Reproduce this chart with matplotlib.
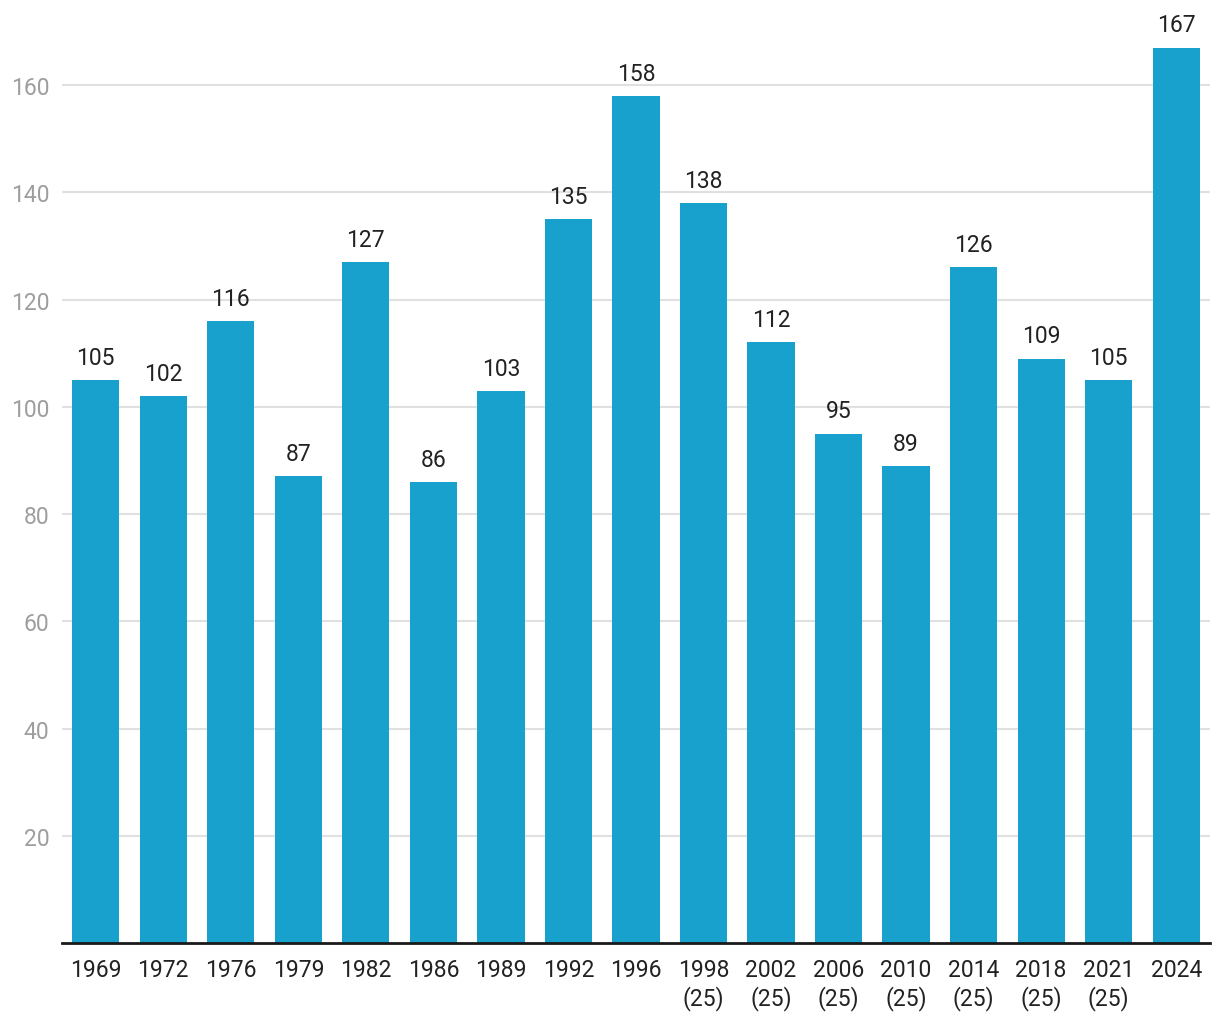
import numpy as np
import matplotlib.pyplot as plt

plt.rcParams["font.family"] = ["Roboto", "DejaVu Sans"]

# data
years = ["1969", "1972", "1976", "1979", "1982", "1986", "1989", "1992", "1996",
         "1998\n(25)", "2002\n(25)", "2006\n(25)", "2010\n(25)", "2014\n(25)",
         "2018\n(25)", "2021\n(25)", "2024"]
values = [105, 102, 116, 87, 127, 86, 103, 135, 158, 138, 112, 95, 89, 126, 109, 105, 167]
y_ticks = [20, 40, 60, 80, 100, 120, 140, 160]

BAR_COLOR = "#18a1cd"
TEXT_COLOR = "#222222"
FS = 16.5

fig = plt.figure(figsize=(12.2, 10.2), dpi=100)
ax = fig.add_axes([0.0508, 0.0745, 0.941, 0.92])

x = np.arange(len(years))
ax.bar(x, values, width=0.7, color=BAR_COLOR, zorder=3)

for xi, v in zip(x, values):
    ax.annotate(str(v), (xi, v), xytext=(0, 8), textcoords="offset points",
                ha="center", va="bottom", fontsize=FS, color=TEXT_COLOR)

ax.set_xlim(-0.5, len(years) - 0.5)
ax.set_ylim(0, 175)
ax.set_xticks(x)
ax.set_xticklabels(years, fontsize=FS, color=TEXT_COLOR, linespacing=1.2)
ax.set_yticks(y_ticks)
ax.set_yticklabels([str(t) for t in y_ticks], fontsize=FS, color="#9e9e9e")
ax.tick_params(axis="both", length=0)
ax.tick_params(axis="x", pad=11)
ax.tick_params(axis="y", pad=9)

ax.grid(axis="y", color="#e0e0e0", linewidth=1.5, zorder=0)
for side in ["top", "right", "left"]:
    ax.spines[side].set_visible(False)
ax.spines["bottom"].set_color("#1a1a1a")
ax.spines["bottom"].set_linewidth(2)
ax.spines["bottom"].set_zorder(4)

fig.savefig("out.png", dpi=100)
